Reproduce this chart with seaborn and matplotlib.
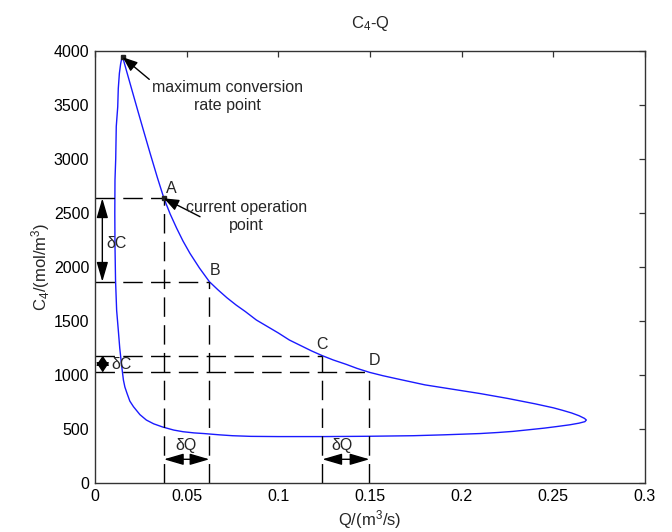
import matplotlib
matplotlib.use("Agg")
import matplotlib.pyplot as plt
import seaborn as sns
import pandas as pd

# ---------------- data ----------------
Q_curve = [0.0151, 0.0175, 0.0205, 0.0236, 0.0264, 0.0300, 0.0340, 0.0376, 0.0410,
           0.0445, 0.0480, 0.0518, 0.0570, 0.0624, 0.0670, 0.0720, 0.0770, 0.0820,
           0.0880, 0.0940, 0.1000, 0.1060, 0.1120, 0.1180, 0.1240, 0.1300, 0.1370,
           0.1430, 0.1497, 0.1570, 0.1650, 0.1800, 0.1950, 0.2100, 0.2250, 0.2400,
           0.2500, 0.2550, 0.2600, 0.2640, 0.2670, 0.2680, 0.2672, 0.2640, 0.2590,
           0.2520, 0.2450, 0.2360, 0.2280, 0.2200, 0.2100, 0.1900, 0.1735, 0.1500,
           0.1250, 0.1000, 0.0850, 0.0750, 0.0680, 0.0594, 0.0540, 0.0480, 0.0430,
           0.0370, 0.0320, 0.0280, 0.0245, 0.0210, 0.0190, 0.0175, 0.0163, 0.0155,
           0.0146, 0.0135, 0.0127, 0.0118, 0.0112, 0.0109, 0.0108, 0.0109, 0.0113,
           0.0116, 0.0124, 0.0127, 0.0133, 0.0140, 0.0146, 0.0151]
C_curve = [3940, 3795, 3615, 3430, 3265, 3055, 2828, 2635, 2490,
           2360, 2240, 2126, 1990, 1864, 1790, 1715, 1648, 1588,
           1510, 1450, 1390, 1325, 1275, 1225, 1180, 1140, 1100,
           1062, 1026, 995, 965, 910, 870, 830, 785, 735,
           698, 675, 650, 625, 600, 585, 570, 556, 541,
           525, 510, 494, 480, 470, 460, 448, 440, 435,
           432, 432, 434, 440, 448, 460, 466, 477, 492,
           520, 550, 585, 635, 708, 760, 830, 890, 955,
           1078, 1250, 1418, 1600, 1880, 2200, 2500, 2804, 3000,
           3300, 3482, 3650, 3791, 3880, 3929, 3940]

point_names = ["A", "B", "C", "D"]
point_Q = [0.0376, 0.0624, 0.1240, 0.1497]
point_C = [2635, 1864, 1180, 1026]

peak_Q, peak_C = 0.0151, 3940

x_ticks = [0, 0.05, 0.1, 0.15, 0.2, 0.25, 0.3]
x_tick_labels = ["0", "0.05", "0.1", "0.15", "0.2", "0.25", "0.3"]
y_ticks = [0, 500, 1000, 1500, 2000, 2500, 3000, 3500, 4000]
y_tick_labels = ["0", "500", "1000", "1500", "2000", "2500", "3000", "3500", "4000"]

# ---------------- style ----------------
sns.set_style("white")
plt.rcParams["font.family"] = ["Liberation Sans", "DejaVu Sans"]
plt.rcParams["mathtext.default"] = "regular"

FS = 11.5
fig = plt.figure(figsize=(6.72, 5.32), dpi=100)
ax = fig.add_axes([95 / 672, 1 - 483.3 / 532, (645 - 95) / 672, (483.3 - 50.7) / 532])

df = pd.DataFrame({"Q": Q_curve, "C": C_curve})
sns.lineplot(data=df, x="Q", y="C", sort=False, estimator=None, color="#1a1aff",
             lw=1.0, ax=ax)

dash = (0, (14, 6))
for name, q, c in zip(point_names, point_Q, point_C):
    ax.plot([0, q], [c, c], color="black", lw=1.0, linestyle=dash)
    ax.plot([q, q], [0, c], color="black", lw=1.0, linestyle=dash)

# point labels
label_offsets = {"A": (0.0042, 92), "B": (0.0031, 108), "C": (0.0, 99), "D": (0.003, 107)}
for name, q, c in zip(point_names, point_Q, point_C):
    dx, dy = label_offsets[name]
    ax.text(q + dx, c + dy, name, fontsize=FS, ha="center", va="center")

# markers at peak and A
ax.plot([peak_Q], [peak_C], marker="s", ms=2.5, color="#222222")
ax.plot([point_Q[0]], [point_C[0]], marker="s", ms=2.5, color="#222222")

# annotations
arrow_kw = dict(arrowstyle="-|>,head_length=0.9,head_width=0.35", color="black", lw=1.0,
                shrinkA=0, shrinkB=0, mutation_scale=10)
ax.annotate("", xy=(peak_Q, peak_C), xytext=(0.0296, 3735), arrowprops=arrow_kw)
ax.text(0.072, 3580, "maximum conversion\nrate point", fontsize=FS, ha="center",
        va="center", multialignment="center", linespacing=1.25)
ax.annotate("", xy=(point_Q[0], point_C[0]), xytext=(0.0573, 2465), arrowprops=arrow_kw)
ax.text(0.0824, 2463, "current operation\npoint", fontsize=FS, ha="center",
        va="center", multialignment="center", linespacing=1.25)

# double arrows
darrow = dict(arrowstyle="<|-|>,head_length=1.2,head_width=0.35", color="black", lw=1.0,
              shrinkA=0, shrinkB=0, mutation_scale=10)
ax.annotate("", xy=(0.0040, point_C[0]), xytext=(0.0040, point_C[1]), arrowprops=darrow)
ax.annotate("", xy=(0.0042, point_C[2]), xytext=(0.0042, point_C[3]),
            arrowprops=dict(darrow, arrowstyle="<|-|>,head_length=0.6,head_width=0.4"))
ax.annotate("", xy=(point_Q[0], 222), xytext=(point_Q[1], 222), arrowprops=darrow)
ax.annotate("", xy=(point_Q[2], 222), xytext=(point_Q[3], 222), arrowprops=darrow)

ax.text(0.0120, 2219, "δC", fontsize=FS, ha="center", va="center")
ax.text(0.0146, 1094, "δC", fontsize=FS, ha="center", va="center")
ax.text(0.0496, 354, "δQ", fontsize=FS, ha="center", va="center")
ax.text(0.1350, 354, "δQ", fontsize=FS, ha="center", va="center")

# axes
ax.set_xlim(0, 0.3)
ax.set_ylim(0, 4000)
ax.set_xticks(x_ticks)
ax.set_xticklabels(x_tick_labels)
ax.set_yticks(y_ticks)
ax.set_yticklabels(y_tick_labels)
ax.tick_params(direction="in", length=4, width=0.9, top=True, right=True,
               labelsize=FS, colors="#333333", labelcolor="black", pad=4)
for s in ax.spines.values():
    s.set_visible(True)
    s.set_color("#333333")
    s.set_linewidth(1.0)

ax.set_xlabel("Q/(m$^3$/s)", fontsize=FS + 0.5, labelpad=3)
ax.set_ylabel("C$_4$/(mol/m$^3$)", fontsize=FS + 0.5, labelpad=1)
ax.set_title("C$_4$-Q", fontsize=FS + 0.5, pad=16)

fig.savefig("out.png", dpi=100)
